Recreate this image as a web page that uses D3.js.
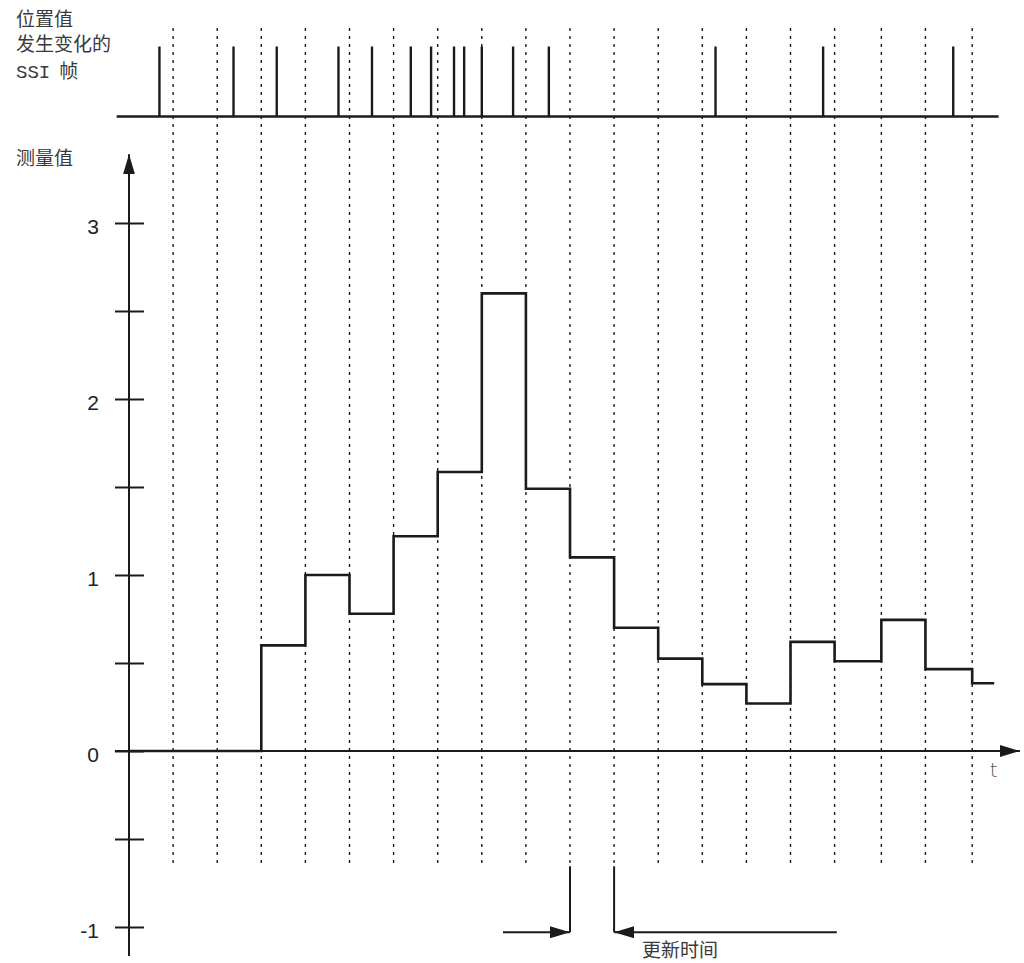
<!DOCTYPE html>
<html>
<head>
<meta charset="utf-8">
<script src="https://cdn.jsdelivr.net/npm/d3@7/dist/d3.min.js"></script>
<style>
  html, body { margin: 0; padding: 0; background: #fff; }
  svg { display: block; }
</style>
</head>
<body>
<svg id="chart" width="1024" height="963"></svg>
<script>
// Update-cycle boundaries (time units)
const cycleBounds = [1, 2, 3, 4, 5, 6, 7, 8, 9, 10, 11, 12, 13, 14, 15, 16, 17.06, 18.06, 19.12];

// SSI frames in which the position value changed (time units)
const changedFrames = [0.69, 2.37, 3.35, 4.75, 5.51, 6.39, 6.85, 7.37, 7.60, 8.00, 8.71, 9.52, 13.30, 15.74, 18.69];

// Measured value held over each update interval: [start, end, value]
const stepStarts = [0, 3, 4, 5, 6, 7, 8, 9, 10, 11, 12, 13, 14, 15, 16, 17.06, 18.06, 19.12];
const stepEnds   = [3, 4, 5, 6, 7, 8, 9, 10, 11, 12, 13, 14, 15, 16, 17.06, 18.06, 19.12, 19.62];
const stepValues = [0, 0.60, 1.00, 0.78, 1.22, 1.585, 2.60, 1.49, 1.10, 0.70, 0.525, 0.38, 0.27, 0.62, 0.51, 0.745, 0.465, 0.385];

// Y axis ticks and labels
const yTicks = [-1, -0.5, 0, 0.5, 1, 1.5, 2, 2.5, 3];
const yLabels = [-1, 0, 1, 2, 3];

const titleLines = ["位置值", "发生变化的"];
const yTitle = "测量值";
const xTitle = "t";
const updateLabel = "更新时间";

const ink = "#1b1b1b";
const textInk = "#3a3a3a";
const cjk = "'Noto Sans CJK SC', 'Noto Sans', sans-serif";

const svg = d3.select("#chart");

const x = d3.scaleLinear().domain([0, 20]).range([129, 1011]);
const y = d3.scaleLinear().domain([-1, 3]).range([927, 223]);
// Pulse strip: 0 = baseline, 1 = pulse top
const yp = d3.scaleLinear().domain([0, 1]).range([116.5, 46.5]);

// Dotted cycle boundaries spanning both strips
svg.append("g")
  .selectAll("line")
  .data(cycleBounds)
  .join("line")
  .attr("x1", d => x(d)).attr("x2", d => x(d))
  .attr("y1", 28).attr("y2", 864)
  .attr("stroke", ink)
  .attr("stroke-width", 1.4)
  .attr("stroke-dasharray", "3,5");

// Top strip: baseline and pulses
svg.append("line")
  .attr("x1", x(-0.28)).attr("x2", x(19.72))
  .attr("y1", yp(0)).attr("y2", yp(0))
  .attr("stroke", ink).attr("stroke-width", 2.4);

svg.append("g")
  .selectAll("line")
  .data(changedFrames)
  .join("line")
  .attr("x1", d => x(d)).attr("x2", d => x(d))
  .attr("y1", yp(0)).attr("y2", yp(1))
  .attr("stroke", ink).attr("stroke-width", 2.4);

// Top-left strip title, one text per line
titleLines.forEach((s, i) => {
  svg.append("text")
    .attr("x", 16).attr("y", 26 + i * 25)
    .attr("font-family", cjk).attr("font-size", 19).attr("fill", textInk)
    .text(s);
});
const t3 = svg.append("text")
  .attr("x", 16).attr("y", 78)
  .attr("fill", textInk);
t3.append("tspan").attr("font-family", "'Liberation Mono', 'DejaVu Sans Mono', monospace").attr("font-size", 19).text("SSI");
t3.append("tspan").attr("font-family", cjk).attr("font-size", 19).attr("dx", 9).text("帧");

// Arrow markers
const defs = svg.append("defs");
defs.append("marker")
  .attr("id", "arrow")
  .attr("viewBox", "0 0 20 12")
  .attr("refX", 20).attr("refY", 6)
  .attr("markerWidth", 20).attr("markerHeight", 12)
  .attr("markerUnits", "userSpaceOnUse")
  .attr("orient", "auto")
  .append("path").attr("d", "M0,0 L20,6 L0,12 Z").attr("fill", ink);

// Y axis
const yAxis = d3.axisLeft(y).tickValues(yTicks).tickSize(14).tickFormat("");
const gy = svg.append("g").attr("transform", `translate(${x(0)},0)`).call(yAxis);
gy.select(".domain").remove();
gy.selectAll(".tick line").attr("x1", 15).attr("stroke", ink).attr("stroke-width", 2);

svg.append("line")
  .attr("x1", x(0)).attr("x2", x(0))
  .attr("y1", 956).attr("y2", y(3.39))
  .attr("stroke", ink).attr("stroke-width", 2)
  .attr("marker-end", "url(#arrow)");

svg.append("g")
  .selectAll("text")
  .data(yLabels)
  .join("text")
  .attr("x", 99).attr("y", d => y(d) + 11)
  .attr("text-anchor", "end")
  .attr("font-family", "'Liberation Sans', Arial, sans-serif")
  .attr("font-size", 21)
  .attr("fill", "#222")
  .text(d => d);

svg.append("text")
  .attr("x", 16).attr("y", 165)
  .attr("font-family", cjk).attr("font-size", 19).attr("fill", textInk)
  .text(yTitle);

// X (time) axis
svg.append("line")
  .attr("x1", x(-0.32)).attr("x2", x(20.2))
  .attr("y1", y(0)).attr("y2", y(0))
  .attr("stroke", ink).attr("stroke-width", 2)
  .attr("marker-end", "url(#arrow)");

svg.append("text")
  .attr("x", x(19.52)).attr("y", 777)
  .attr("font-family", "'DejaVu Sans', sans-serif").attr("font-size", 20)
  .attr("font-weight", 300).attr("fill", "#555")
  .text(xTitle);

// Measured value as a step curve
const stepPts = [];
stepStarts.forEach((s, i) => {
  stepPts.push([s, stepValues[i]]);
  stepPts.push([stepEnds[i], stepValues[i]]);
});
svg.append("path")
  .datum(stepPts)
  .attr("d", d3.line().x(d => x(d[0])).y(d => y(d[1])))
  .attr("fill", "none")
  .attr("stroke", ink)
  .attr("stroke-width", 2.6)
  .attr("stroke-linejoin", "miter");

// Update time annotation
const ua = svg.append("g");
[10, 11].forEach(t => {
  ua.append("line")
    .attr("x1", x(t)).attr("x2", x(t))
    .attr("y1", y(-0.655)).attr("y2", y(-1.03))
    .attr("stroke", ink).attr("stroke-width", 2);
});
ua.append("line")
  .attr("x1", x(8.48)).attr("x2", x(10))
  .attr("y1", y(-1.03)).attr("y2", y(-1.03))
  .attr("stroke", ink).attr("stroke-width", 2)
  .attr("marker-end", "url(#arrow)");
ua.append("line")
  .attr("x1", x(16.05)).attr("x2", x(11))
  .attr("y1", y(-1.03)).attr("y2", y(-1.03))
  .attr("stroke", ink).attr("stroke-width", 2)
  .attr("marker-end", "url(#arrow)");
ua.append("text")
  .attr("x", 642).attr("y", 957)
  .attr("font-family", cjk).attr("font-size", 19).attr("fill", textInk)
  .text(updateLabel);
</script>
</body>
</html>
